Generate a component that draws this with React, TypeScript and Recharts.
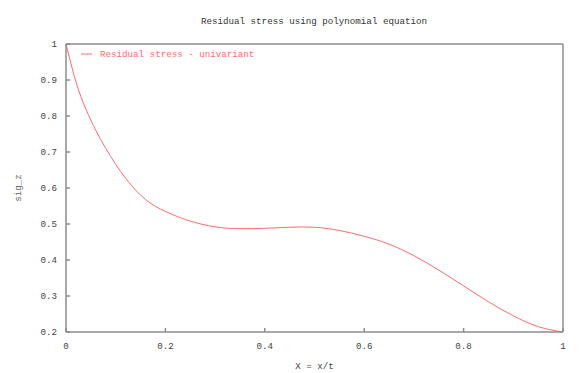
import React from 'react';
import { LineChart, Line, XAxis, YAxis, Legend, Label } from 'recharts';

const xValues = [0, 0.02, 0.04, 0.06, 0.08, 0.1, 0.12, 0.14, 0.16, 0.18, 0.2, 0.22, 0.25, 0.3, 0.35, 0.4, 0.45, 0.5, 0.55, 0.6, 0.65, 0.7, 0.75, 0.8, 0.85, 0.9, 0.95, 1.0];
const stressValues = [1.0, 0.895, 0.819, 0.76, 0.71, 0.666, 0.627, 0.594, 0.568, 0.549, 0.535, 0.523, 0.508, 0.492, 0.487, 0.488, 0.491, 0.491, 0.482, 0.466, 0.444, 0.412, 0.372, 0.328, 0.284, 0.245, 0.215, 0.2];
const xTicks = [0, 0.2, 0.4, 0.6, 0.8, 1];
const yTicks = [0.2, 0.3, 0.4, 0.5, 0.6, 0.7, 0.8, 0.9, 1];
const titleText = 'Residual stress using polynomial equation';
const seriesName = 'Residual stress - univariant';
const xLabel = 'X = x/t';
const yLabel = 'sig_z';

const data = xValues.map((x, i) => ({ x, y: stressValues[i] }));

const FONT = "'Liberation Mono', 'Courier New', monospace";
const FS = 9.2;
const AXIS = '#8c8c8c';
const RED = '#ff6b6b';
const TICKTXT = '#444444';

const tickStyle = { fontFamily: FONT, fontSize: FS, fill: TICKTXT };

const LegendContent = () => (
  <svg width={200} height={14} style={{ display: 'block' }}>
    <line x1={1} y1={7} x2={12} y2={7} stroke={RED} strokeWidth={1} />
    <text x={20} y={7} dy="0.35em" fontFamily={FONT} fontSize={FS} fill={RED}>
      {seriesName}
    </text>
  </svg>
);

export default function App() {
  return (
    <div style={{ position: 'absolute', left: 0, top: 0, background: '#fff' }}>
      <LineChart width={586} height={373} data={data} margin={{ top: 43, right: 22, bottom: 0, left: 0 }}>
        <XAxis
          xAxisId="b"
          dataKey="x"
          type="number"
          domain={[0, 1]}
          ticks={xTicks}
          orientation="bottom"
          height={41}
          stroke={AXIS}
          strokeWidth={1.5}
          tickSize={-4}
          tickMargin={14}
          tick={tickStyle}
          tickFormatter={(v: number) => String(v)}
        >
          <Label
            content={() => (
              <text x={314.5} y={366} dy="0.35em" textAnchor="middle" fontFamily={FONT} fontSize={FS} fill={TICKTXT}>
                {xLabel}
              </text>
            )}
          />
        </XAxis>
        <XAxis
          xAxisId="t"
          dataKey="x"
          type="number"
          domain={[0, 1]}
          ticks={xTicks}
          orientation="top"
          height={1}
          stroke={AXIS}
          strokeWidth={1.5}
          tickSize={-4}
          tick={false}
        >
          <Label
            content={() => (
              <text x={314} y={20.5} dy="0.35em" textAnchor="middle" fontFamily={FONT} fontSize={FS} fill="#333">
                {titleText}
              </text>
            )}
          />
        </XAxis>
        <YAxis
          yAxisId="l"
          type="number"
          domain={[0.2, 1]}
          ticks={yTicks}
          orientation="left"
          width={66}
          stroke={AXIS}
          strokeWidth={1.5}
          tickSize={-4}
          tickMargin={13}
          tick={tickStyle}
          tickFormatter={(v: number) => String(v)}
        >
          <Label
            content={() => (
              <text x={18} y={188} dy="0.35em" textAnchor="middle" transform="rotate(-90 18 188)" fontFamily={FONT} fontSize={FS} fill="#666">
                {yLabel}
              </text>
            )}
          />
        </YAxis>
        <YAxis
          yAxisId="r"
          type="number"
          domain={[0.2, 1]}
          ticks={yTicks}
          orientation="right"
          width={1}
          stroke={AXIS}
          strokeWidth={1.5}
          tickSize={-4}
          tick={false}
        />
        <Legend
          layout="vertical"
          align="center"
          verticalAlign="middle"
          wrapperStyle={{ position: 'absolute', left: 80, top: 47, width: 200 }}
          content={LegendContent}
        />
        <Line
          xAxisId="b"
          yAxisId="l"
          dataKey="y"
          name={seriesName}
          type="natural"
          stroke={RED}
          strokeWidth={1}
          dot={false}
          activeDot={false}
          isAnimationActive={false}
        />
      </LineChart>
    </div>
  );
}
